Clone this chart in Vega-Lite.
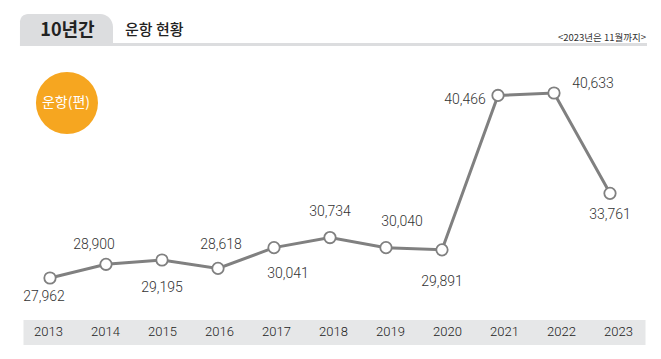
{
  "$schema": "https://vega.github.io/schema/vega-lite/v6.json",
  "width": 622,
  "height": 332,
  "autosize": {"type": "none"},
  "padding": {"left": 23, "top": 0, "right": 16, "bottom": 27},
  "background": "white",
  "config": {"view": {"stroke": null}},
  "datasets": {
    "flights": [
      {"year": 2013, "value": 27962},
      {"year": 2014, "value": 28900},
      {"year": 2015, "value": 29195},
      {"year": 2016, "value": 28618},
      {"year": 2017, "value": 30041},
      {"year": 2018, "value": 30734},
      {"year": 2019, "value": 30040},
      {"year": 2020, "value": 29891},
      {"year": 2021, "value": 40466},
      {"year": 2022, "value": 40633},
      {"year": 2023, "value": 33761}
    ],
    "one": [{"t": 1}]
  },
  "resolve": {"scale": {"x": "independent"}},
  "layer": [
    {
      "layer": [
        {
          "data": {"name": "flights"},
          "mark": {"type": "line", "color": "#808080", "strokeWidth": 3},
          "encoding": {
            "x": {
              "field": "year", "type": "quantitative",
              "scale": {"domain": [2012.518, 2023.625], "nice": false, "zero": false},
              "axis": {
                "values": [2013, 2014, 2015, 2016, 2017, 2018, 2019, 2020, 2021, 2022, 2023],
                "title": null, "grid": false, "labels": false,
                "ticks": false, "tickSize": 0, "zindex": 0,
                "domainColor": "#e6e7e8", "domainWidth": 25
              }
            },
            "y": {
              "field": "value", "type": "quantitative",
              "scale": {"domain": [24263, 47003], "nice": false, "zero": false},
              "axis": null
            }
          }
        },
        {
          "data": {"name": "flights"},
          "mark": {"type": "point", "shape": "circle", "filled": true, "fill": "white", "stroke": "#808080", "strokeWidth": 1.8, "size": 130, "opacity": 1},
          "encoding": {
            "x": {"field": "year", "type": "quantitative"},
            "y": {"field": "value", "type": "quantitative"}
          }
        },
        {
          "data": {"name": "one"},
          "mark": {"type": "rect", "color": "#dcdddf"},
          "encoding": {
            "x": {"datum": 2012.464, "type": "quantitative"},
            "x2": {"datum": 2023.661},
            "y": {"datum": 44058, "type": "quantitative"},
            "y2": {"datum": 43853}
          }
        },
        {
          "data": {"name": "one"},
          "mark": {"type": "rect", "color": "#dcdddf", "cornerRadiusTopLeft": 8, "cornerRadiusTopRight": 13},
          "encoding": {
            "x": {"datum": 2012.464, "type": "quantitative"},
            "x2": {"datum": 2014.125},
            "y": {"datum": 46044, "type": "quantitative"},
            "y2": {"datum": 43853}
          }
        },
        {
          "data": {"name": "one"},
          "mark": {"type": "text", "text": "10년간", "font": "Noto Sans CJK KR", "fontSize": 18, "fontWeight": "bold", "color": "#222222", "align": "center", "baseline": "middle"},
          "encoding": {
            "x": {"datum": 2013.312, "type": "quantitative"},
            "y": {"datum": 44880, "type": "quantitative"}
          }
        },
        {
          "data": {"name": "one"},
          "mark": {"type": "text", "text": "운항 현황", "font": "Noto Sans CJK KR", "fontSize": 15, "fontWeight": 500, "color": "#222222", "align": "left", "baseline": "middle"},
          "encoding": {
            "x": {"datum": 2014.339, "type": "quantitative"},
            "y": {"datum": 44948, "type": "quantitative"}
          }
        },
        {
          "data": {"name": "one"},
          "mark": {"type": "text", "text": "<2023년은 11월까지>", "font": "Noto Sans CJK KR", "fontSize": 9.5, "color": "#333333", "align": "right", "baseline": "middle"},
          "encoding": {
            "x": {"datum": 2023.643, "type": "quantitative"},
            "y": {"datum": 44400, "type": "quantitative"}
          }
        },
        {
          "data": {"name": "one"},
          "mark": {"type": "point", "shape": "circle", "filled": true, "color": "#f6a620", "opacity": 1, "size": 3848},
          "encoding": {
            "x": {"datum": 2013.303, "type": "quantitative"},
            "y": {"datum": 39949, "type": "quantitative"}
          }
        },
        {
          "data": {"name": "one"},
          "mark": {"type": "text", "text": "운항(편)", "font": "Noto Sans CJK KR", "fontSize": 14, "color": "white", "align": "center", "baseline": "middle"},
          "encoding": {
            "x": {"datum": 2013.285, "type": "quantitative"},
            "y": {"datum": 39949, "type": "quantitative"}
          }
        },
        {"data": {"name": "flights"}, "transform": [{"filter": "datum.year == 2013"}], "mark": {"type": "text", "font": "Roboto", "fontWeight": 300, "fontSize": 14, "color": "#333333", "dx": -6, "dy": 19, "baseline": "middle"}, "encoding": {"x": {"field": "year", "type": "quantitative"}, "y": {"field": "value", "type": "quantitative"}, "text": {"field": "value", "type": "quantitative", "format": ","}}},
        {"data": {"name": "flights"}, "transform": [{"filter": "datum.year == 2014"}], "mark": {"type": "text", "font": "Roboto", "fontWeight": 300, "fontSize": 14, "color": "#333333", "dx": -12, "dy": -19, "baseline": "middle"}, "encoding": {"x": {"field": "year", "type": "quantitative"}, "y": {"field": "value", "type": "quantitative"}, "text": {"field": "value", "type": "quantitative", "format": ","}}},
        {"data": {"name": "flights"}, "transform": [{"filter": "datum.year == 2015"}], "mark": {"type": "text", "font": "Roboto", "fontWeight": 300, "fontSize": 14, "color": "#333333", "dx": 0, "dy": 28, "baseline": "middle"}, "encoding": {"x": {"field": "year", "type": "quantitative"}, "y": {"field": "value", "type": "quantitative"}, "text": {"field": "value", "type": "quantitative", "format": ","}}},
        {"data": {"name": "flights"}, "transform": [{"filter": "datum.year == 2016"}], "mark": {"type": "text", "font": "Roboto", "fontWeight": 300, "fontSize": 14, "color": "#333333", "dx": 3, "dy": -23, "baseline": "middle"}, "encoding": {"x": {"field": "year", "type": "quantitative"}, "y": {"field": "value", "type": "quantitative"}, "text": {"field": "value", "type": "quantitative", "format": ","}}},
        {"data": {"name": "flights"}, "transform": [{"filter": "datum.year == 2017"}], "mark": {"type": "text", "font": "Roboto", "fontWeight": 300, "fontSize": 14, "color": "#333333", "dx": 14, "dy": 26, "baseline": "middle"}, "encoding": {"x": {"field": "year", "type": "quantitative"}, "y": {"field": "value", "type": "quantitative"}, "text": {"field": "value", "type": "quantitative", "format": ","}}},
        {"data": {"name": "flights"}, "transform": [{"filter": "datum.year == 2018"}], "mark": {"type": "text", "font": "Roboto", "fontWeight": 300, "fontSize": 14, "color": "#333333", "dx": 0, "dy": -26, "baseline": "middle"}, "encoding": {"x": {"field": "year", "type": "quantitative"}, "y": {"field": "value", "type": "quantitative"}, "text": {"field": "value", "type": "quantitative", "format": ","}}},
        {"data": {"name": "flights"}, "transform": [{"filter": "datum.year == 2019"}], "mark": {"type": "text", "font": "Roboto", "fontWeight": 300, "fontSize": 14, "color": "#333333", "dx": 16, "dy": -26, "baseline": "middle"}, "encoding": {"x": {"field": "year", "type": "quantitative"}, "y": {"field": "value", "type": "quantitative"}, "text": {"field": "value", "type": "quantitative", "format": ","}}},
        {"data": {"name": "flights"}, "transform": [{"filter": "datum.year == 2020"}], "mark": {"type": "text", "font": "Roboto", "fontWeight": 300, "fontSize": 14, "color": "#333333", "dx": 0, "dy": 32, "baseline": "middle"}, "encoding": {"x": {"field": "year", "type": "quantitative"}, "y": {"field": "value", "type": "quantitative"}, "text": {"field": "value", "type": "quantitative", "format": ","}}},
        {"data": {"name": "flights"}, "transform": [{"filter": "datum.year == 2021"}], "mark": {"type": "text", "font": "Roboto", "fontWeight": 300, "fontSize": 14, "color": "#333333", "dx": -33, "dy": 5, "baseline": "middle"}, "encoding": {"x": {"field": "year", "type": "quantitative"}, "y": {"field": "value", "type": "quantitative"}, "text": {"field": "value", "type": "quantitative", "format": ","}}},
        {"data": {"name": "flights"}, "transform": [{"filter": "datum.year == 2022"}], "mark": {"type": "text", "font": "Roboto", "fontWeight": 300, "fontSize": 14, "color": "#333333", "dx": 39, "dy": -9, "baseline": "middle"}, "encoding": {"x": {"field": "year", "type": "quantitative"}, "y": {"field": "value", "type": "quantitative"}, "text": {"field": "value", "type": "quantitative", "format": ","}}},
        {"data": {"name": "flights"}, "transform": [{"filter": "datum.year == 2023"}], "mark": {"type": "text", "font": "Roboto", "fontWeight": 300, "fontSize": 14, "color": "#333333", "dx": 0, "dy": 22, "baseline": "middle"}, "encoding": {"x": {"field": "year", "type": "quantitative"}, "y": {"field": "value", "type": "quantitative"}, "text": {"field": "value", "type": "quantitative", "format": ","}}}
      ]
    },
    {
      "data": {"name": "flights"},
      "mark": {"type": "text", "font": "Roboto", "fontWeight": 300, "fontSize": 13, "color": "#222222", "align": "center", "baseline": "middle"},
      "encoding": {
        "x": {"field": "year", "type": "quantitative", "scale": {"domain": [2012.553, 2023.465], "nice": false, "zero": false}, "axis": null},
        "y": {"datum": 24263, "type": "quantitative"},
        "text": {"field": "year", "type": "nominal"}
      }
    }
  ]
}
